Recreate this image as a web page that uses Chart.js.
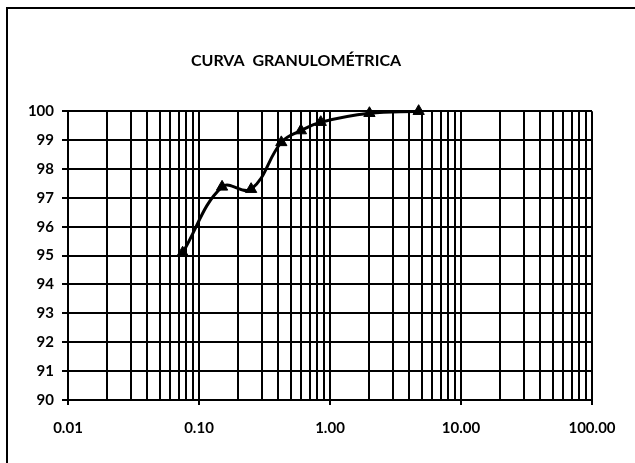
<!DOCTYPE html>
<html>
<head>
<meta charset="utf-8">
<script src="https://cdn.jsdelivr.net/npm/chart.js@4.4.1/dist/chart.umd.min.js"></script>
<style>
  html, body { margin: 0; padding: 0; background: #fff; }
  #wrap { width: 635px; height: 463px; }
</style>
</head>
<body>
<div id="wrap"><canvas id="chart" width="635" height="463"></canvas></div>
<script>
// sieve openings (mm) and percent passing
const sieveSizes = [0.075, 0.15, 0.25, 0.425, 0.60, 0.85, 2.00, 4.75]
const percentPassing = [95.1, 97.38, 97.3, 98.92, 99.33, 99.62, 99.93, 100]
const decades = [0.01, 0.1, 1, 10, 100]
const decadeLabels = ['0.01', '0.10', '1.00', '10.00', '100.00']
const titleText = 'CURVA  GRANULOMÉTRICA'

const FONT = 'Lato, "DejaVu Sans", sans-serif'

// 1..9 x 10^n lines for the log grid
function logGridValues() {
    var vals = []
    for (var i = 0; i < decades.length - 1; i++) {
        for (var m = 1; m < 10; m++) vals.push(+(decades[i] * m).toPrecision(3))
    }
    vals.push(decades[decades.length - 1])
    return vals
}

function isDecade(v) {
    return decades.some(d => Math.abs(d - v) < d * 1e-6)
}

// outer frame of the sheet
const framePlugin = {
    id: 'frame',
    beforeDraw(chart) {
        var c = chart.ctx
        c.save()
        c.fillStyle = '#fff'
        c.fillRect(0, 0, chart.width, chart.height)
        c.strokeStyle = '#000'
        c.lineWidth = 2
        c.beginPath()
        c.moveTo(7, chart.height + 5)
        c.lineTo(7, 8)
        c.lineTo(chart.width + 5, 8)
        c.stroke()
        c.restore()
    }
}

var ctx = document.getElementById('chart').getContext('2d')
new Chart(ctx, {
    type: 'line',
    data: {
        datasets: [{
            data: sieveSizes.map((x, i) => ({ x: x, y: percentPassing[i] })),
            borderColor: '#000',
            backgroundColor: '#000',
            borderWidth: 3,
            tension: 0.4,
            clip: false,
            pointStyle: 'triangle',
            pointRadius: 6.5,
            pointBorderWidth: 1,
            fill: false
        }]
    },
    options: {
        responsive: false,
        animation: false,
        layout: { padding: { left: 0, right: 43, top: 0, bottom: 0 } },
        plugins: {
            legend: { display: false },
            tooltip: { enabled: false },
            title: {
                display: true,
                text: titleText,
                color: '#000',
                font: { family: FONT, size: 16, weight: 'bold' },
                padding: { top: 51, bottom: 41 }
            }
        },
        scales: {
            x: {
                type: 'logarithmic',
                min: 0.01,
                max: 100,
                afterBuildTicks(scale) {
                    scale.ticks = logGridValues().map(v => ({ value: v }))
                },
                afterFit(scale) { scale.height = 63 },
                ticks: {
                    autoSkip: false,
                    maxRotation: 0,
                    padding: 14,
                    color: '#000',
                    font: { family: FONT, size: 15, weight: 'bold' },
                    callback(v) {
                        var i = decades.findIndex(d => Math.abs(d - v) < d * 1e-6)
                        return i >= 0 ? decadeLabels[i] : ''
                    }
                },
                grid: {
                    color: '#000',
                    lineWidth: 2,
                    tickLength: 5,
                    tickColor: c => (c.tick && isDecade(c.tick.value)) ? '#000' : 'rgba(0,0,0,0)'
                },
                border: { color: '#000', width: 2 }
            },
            y: {
                min: 90,
                max: 100,
                afterFit(scale) { scale.width = 68 },
                ticks: {
                    stepSize: 1,
                    padding: 8,
                    color: '#000',
                    font: { family: FONT, size: 15, weight: 'bold' }
                },
                grid: { color: '#000', lineWidth: 2, tickLength: 6 },
                border: { color: '#000', width: 2 }
            }
        }
    },
    plugins: [framePlugin]
})
</script>
</body>
</html>
